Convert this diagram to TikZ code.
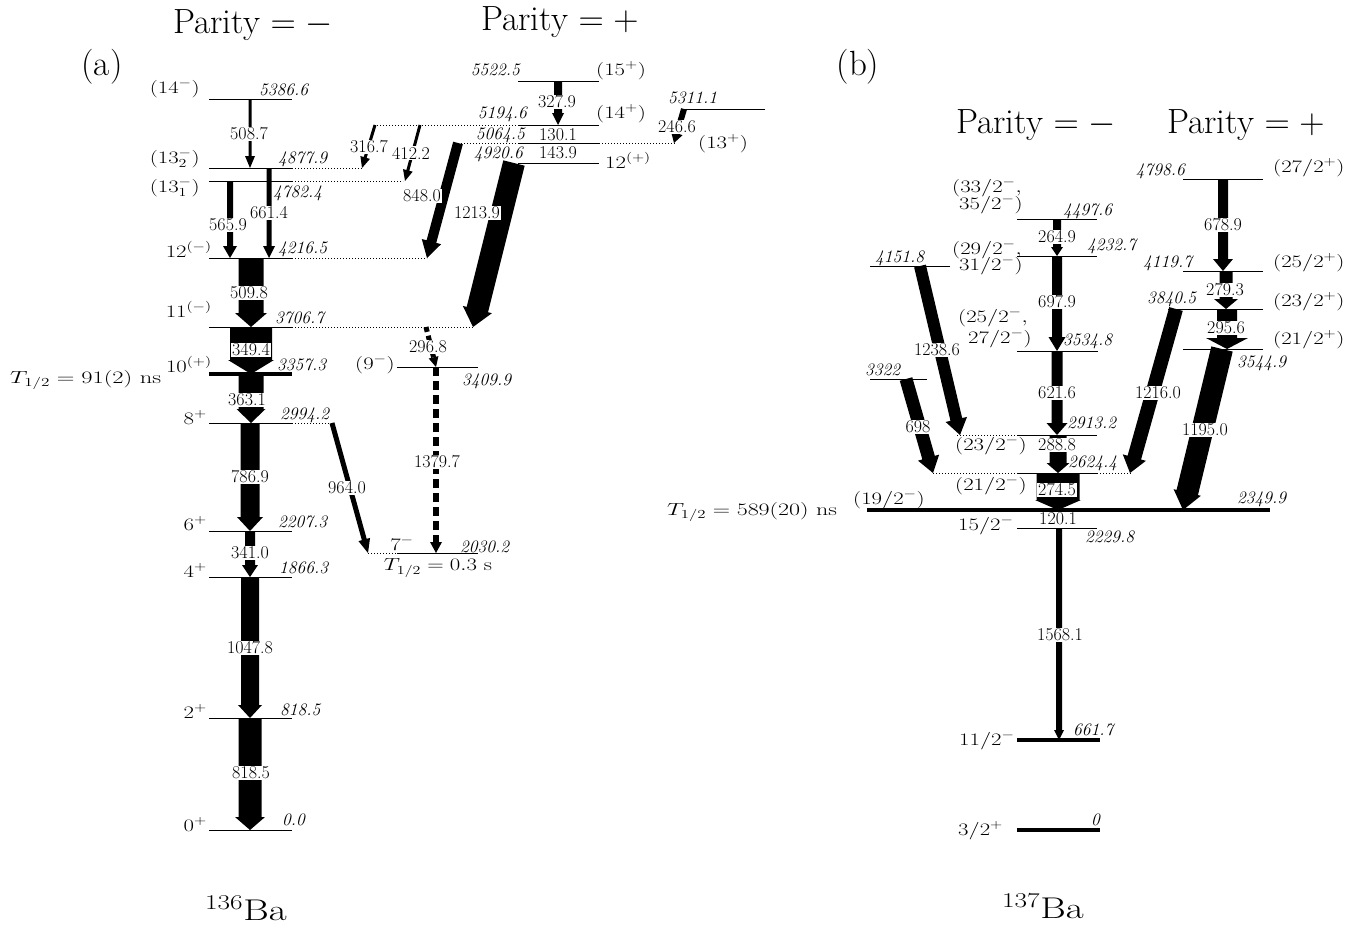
\RequirePackage{fix-cm}
\documentclass[tikz,border=0pt]{standalone}
\usepackage{graphicx}
\usetikzlibrary{calc}
\newcommand\sx[1]{\scalebox{1.3}[1]{#1}}
% fat gamma arrow: name, start, end, half body, half head, head length
\newcommand\gamarrow[6]{%
  \coordinate (#1s) at #2; \coordinate (#1e) at #3;
  \path ($(#1e)!#6!(#1s)$) coordinate (#1c);
  \fill ($(#1s)!#4!90:(#1e)$) -- ($(#1c)!#4!90:(#1e)$) -- ($(#1c)!#5!90:(#1e)$) -- (#1e)
     -- ($(#1c)!#5!-90:(#1e)$) -- ($(#1c)!#4!-90:(#1e)$) -- ($(#1s)!#4!-90:(#1e)$) -- cycle;}
% dashed arrow: name, start, end, line width, half head, head length, dash pattern
\newcommand\gamdash[7]{%
  \coordinate (#1s) at #2; \coordinate (#1e) at #3;
  \path ($(#1e)!#6!(#1s)$) coordinate (#1c);
  \draw[line width=#4, dash pattern=#7] (#1s) -- (#1c);
  \fill ($(#1c)!#5!90:(#1e)$) -- (#1e) -- ($(#1c)!#5!-90:(#1e)$) -- cycle;}
\tikzset{
  lev/.style={line width=1pt},
  levthick/.style={line width=4pt},
  ext/.style={line width=1pt, dotted},
  en/.style={font=\fontsize{17.5}{20}\selectfont\itshape, inner sep=0pt},
  sp/.style={font=\fontsize{17.5}{20}\selectfont, inner sep=0pt},
  tl/.style={font=\fontsize{18}{20}\selectfont, fill=white, inner sep=1pt},
  ttl/.style={font=\fontsize{35}{40}\selectfont, inner sep=0pt},
}
\begin{document}
\begin{tikzpicture}[x=1pt,y=-1pt]
\useasboundingbox (0,0) rectangle (1367,927);

% ================= (a) =================
% levels, left column
\draw[lev] (209,99) -- (292,99);
\draw[lev] (209,168) -- (292,168); \draw[ext] (292,168) -- (363,168);
\draw[lev] (209,181) -- (292,181); \draw[ext] (292,181) -- (403,181);
\draw[lev] (209,258) -- (292,258); \draw[ext] (292,258) -- (427,258);
\draw[lev] (209,327) -- (292,327); \draw[ext] (292,327) -- (473,327);
\draw[levthick] (209,374) -- (292,374);
\draw[lev] (209,423) -- (292,423); \draw[ext] (292,423) -- (332,423);
\draw[lev] (209,531) -- (292,531);
\draw[lev] (209,577) -- (292,577);
\draw[lev] (209,718) -- (292,718);
\draw[lev] (209,830) -- (292,830);
% levels, right column
\draw[lev] (518,81) -- (599,81);
\draw[lev] (518,125) -- (599,125); \draw[ext] (374,125) -- (518,125);
\draw[lev] (518,143) -- (599,143); \draw[ext] (458,143) -- (518,143); \draw[ext] (599,143) -- (675,143);
\draw[lev] (518,163) -- (599,163);
\draw[lev] (683,109) -- (765,109);
\draw[lev] (397,367) -- (478,367);
\draw[lev] (397,553) -- (478,553); \draw[ext] (368,553) -- (397,553);

% transitions
\gamarrow{t5087}{(250,99)}{(250,168)}{1.5pt}{5pt}{12pt}
\gamarrow{t5659}{(230,181)}{(230,258)}{3pt}{7pt}{12pt}
\gamarrow{t6614}{(269,168)}{(269,258)}{2.5pt}{6pt}{12pt}
\gamarrow{t5098}{(251,258)}{(251,327)}{12.5pt}{16pt}{14pt}
\gamarrow{t3494}{(251,327)}{(251,374)}{21pt}{23pt}{14pt}
\gamarrow{t3631}{(251,374)}{(251,423)}{12.5pt}{14.5pt}{14pt}
\gamarrow{t7869}{(250,423)}{(250,531)}{9.5pt}{13pt}{14pt}
\gamarrow{t3410}{(250,531)}{(250,577)}{5pt}{8pt}{12pt}
\gamarrow{t10478}{(250,577)}{(250,718)}{9pt}{12pt}{13pt}
\gamarrow{t8185}{(250,718)}{(250,830)}{11.5pt}{15pt}{13pt}
\gamarrow{t3279}{(558,81)}{(558,125)}{4pt}{6pt}{12pt}
\gamarrow{t2466}{(684,109)}{(674,143)}{3pt}{6pt}{10pt}
\gamarrow{t3167}{(375,125)}{(362,168)}{1.5pt}{5pt}{11pt}
\gamarrow{t4122}{(420,125)}{(405,181)}{1.5pt}{5pt}{11pt}
\gamarrow{t8480}{(458,143)}{(427,258)}{5pt}{10pt}{17pt}
\gamarrow{t12139}{(514,163)}{(473,327)}{11pt}{15pt}{18pt}
\gamarrow{t9640}{(332,423)}{(368,553)}{2.5pt}{6pt}{14pt}
\gamdash{t2968}{(426,327)}{(436,367)}{5pt}{5pt}{10pt}{on 5pt off 4pt}
\gamdash{t13797}{(436,367)}{(436,553)}{6pt}{6pt}{11pt}{on 9pt off 5pt}

% transition labels
\node[tl] (l5087) at (249,134) {508.7};
\node[tl] (l5659) at (228,225) {565.9};
\node[tl] (l6614) at (269,213) {661.4};
\node[tl] (l5098) at (249,293) {509.8};
\node[tl] (l3494) at (251,350) {349.4};
\node[tl] (l3631) at (247,400) {363.1};
\node[tl] (l7869) at (250,477) {786.9};
\node[tl] (l3410) at (250,553) {341.0};
\node[tl] (l10478) at (250,648) {1047.8};
\node[tl] (l8185) at (251,773) {818.5};
\node[tl] (l3279) at (557,102) {327.9};
\node[tl] (l1301) at (558,135) {130.1};
\node[tl] (l1439) at (558,153) {143.9};
\node[tl] (l2466) at (677,127) {246.6};
\node[tl] (l3167) at (369,147) {316.7};
\node[tl] (l4122) at (411,153) {412.2};
\node[tl] (l8480) at (422,196) {848.0};
\node[tl] (l12139) at (477,213) {1213.9};
\node[tl] (l9640) at (347,488) {964.0};
\node[tl] (l2968) at (428,347) {296.8};
\node[tl] (l13797) at (437,462) {1379.7};

% spin labels
\node[sp, anchor=base east] (s14m) at (200,93) {\sx{$(14^-)$}};
\node[sp, anchor=base east] (s132) at (200,163) {\sx{$(13^-_2)$}};
\node[sp, anchor=base east] (s131) at (200,192) {\sx{$(13^-_1)$}};
\node[sp, anchor=base east] (s12m) at (212,257) {\sx{$12^{(-)}$}};
\node[sp, anchor=base east] (s11m) at (212,317) {\sx{$11^{(-)}$}};
\node[sp, anchor=base east] (s10p) at (212,372) {\sx{$10^{(+)}$}};
\node[sp, anchor=base east] (s8p) at (207,424) {\sx{$8^+$}};
\node[sp, anchor=base east] (s6p) at (207,530) {\sx{$6^+$}};
\node[sp, anchor=base east] (s4p) at (207,577) {\sx{$4^+$}};
\node[sp, anchor=base east] (s2p) at (207,718) {\sx{$2^+$}};
\node[sp, anchor=base east] (s0p) at (207,831) {\sx{$0^+$}};
\node[sp, anchor=base west] (s15p) at (596,75) {\sx{$(15^+)$}};
\node[sp, anchor=base west] (s14p) at (596,118) {\sx{$(14^+)$}};
\node[sp, anchor=base west] (s12p) at (605,168) {\sx{$12^{(+)}$}};
\node[sp, anchor=base west] (s13p) at (698,148) {\sx{$(13^+)$}};
\node[sp, anchor=base east] (s9m) at (395,369) {\sx{$(9^-)$}};
\node[sp, anchor=base] (s7m) at (402,550) {\sx{$7^-$}};
\node[sp, anchor=base west] (thalfa) at (10,383) {\scalebox{1.4}[1]{$T_{1/2}=91(2)$ ns}};
\node[sp] (thalfb) at (438,568) {\sx{$T_{1/2}=0.3$ s}};

% energies
\node[en, anchor=base west] (e5386) at (259,95) {5386.6};
\node[en, anchor=base west] (e4877) at (278,163) {4877.9};
\node[en, anchor=base west] (e4782) at (273,197) {4782.4};
\node[en, anchor=base west] (e4216) at (278,253) {4216.5};
\node[en, anchor=base west] (e3706) at (275,323) {3706.7};
\node[en, anchor=base west] (e3357) at (277,370) {3357.3};
\node[en, anchor=base west] (e2994) at (280,419) {2994.2};
\node[en, anchor=base west] (e2207) at (278,527) {2207.3};
\node[en, anchor=base west] (e1866) at (279,573) {1866.3};
\node[en, anchor=base west] (e818) at (280,715) {818.5};
\node[en, anchor=base west] (e0a) at (282,825) {0.0};
\node[en, anchor=base east] (e5522) at (520,75) {5522.5};
\node[en, anchor=base east] (e5194) at (527,118) {5194.6};
\node[en, anchor=base east] (e5064) at (525,139) {5064.5};
\node[en, anchor=base east] (e4920) at (523,158) {4920.6};
\node[en, anchor=base west] (e5311) at (668,103) {5311.1};
\node[en, anchor=base west] (e3409) at (462,385) {3409.9};
\node[en, anchor=base west] (e2030) at (460,552) {2030.2};

% titles
\node[ttl] (pa1) at (253,25) {Parity $=-$};
\node[ttl] (pa2) at (560,22) {Parity $=+$};
\node[ttl] (lab-a) at (102,67) {(a)};
\node[ttl, anchor=base, font=\fontsize{30}{34}\selectfont] (nuc-a) at (246,920) {\sx{$^{136}$Ba}};

% ================= (b) =================
\draw[lev] (1183,179) -- (1263,179);
\draw[lev] (1017,219) -- (1097,219);
\draw[lev] (1017,256) -- (1097,256);
\draw[lev] (870,266) -- (950,266);
\draw[lev] (1183,271) -- (1263,271);
\draw[lev] (1168,309) -- (1263,309);
\draw[lev] (1183,349) -- (1263,349);
\draw[lev] (1017,351) -- (1098,351);
\draw[lev] (870,379) -- (927,379);
\draw[lev] (1017,435) -- (1097,435); \draw[ext] (957,435) -- (1017,435);
\draw[lev] (1017,473) -- (1097,473); \draw[ext] (933,473) -- (1017,473); \draw[ext] (1097,473) -- (1132,473);
\draw[levthick] (867,510) -- (1270,510);
\draw[lev] (1017,528) -- (1097,528);
\draw[levthick] (1017,740) -- (1100,740);
\draw[levthick] (1017,830) -- (1100,830);

\gamarrow{u2649}{(1057,219)}{(1057,256)}{4pt}{6pt}{9pt}
\gamarrow{u6979}{(1057,256)}{(1057,351)}{5pt}{8.5pt}{14pt}
\gamarrow{u6216}{(1057,351)}{(1057,435)}{5.5pt}{10.5pt}{12pt}
\gamarrow{u2888}{(1058,435)}{(1058,473)}{8.5pt}{11.5pt}{10pt}
\gamarrow{u2745}{(1058,473)}{(1058,510)}{21.5pt}{23pt}{10pt}
\gamarrow{u15681}{(1059,528)}{(1059,740)}{3pt}{5pt}{10pt}
\gamarrow{u6789}{(1223,179)}{(1223,271)}{5pt}{10pt}{12pt}
\gamarrow{u2793}{(1226,271)}{(1226,309)}{6.5pt}{12pt}{10pt}
\gamarrow{u2956}{(1227,309)}{(1227,349)}{10pt}{21pt}{11pt}
\gamarrow{u12386}{(920,266)}{(960,435)}{6pt}{11pt}{16pt}
\gamarrow{u698}{(906,379)}{(933,473)}{6.5pt}{11pt}{16pt}
\gamarrow{u12160}{(1176,309)}{(1130,473)}{7pt}{12pt}{16pt}
\gamarrow{u11950}{(1222,349)}{(1183,510)}{11pt}{14pt}{18pt}

\node[tl] (m2649) at (1057,237) {264.9};
\node[tl] (m6979) at (1057,302) {697.9};
\node[tl] (m6216) at (1057,393) {621.6};
\node[tl] (m2888) at (1057,445) {288.8};
\node[tl] (m2745) at (1057,490) {274.5};
\node[tl] (m1201) at (1058,519) {120.1};
\node[tl] (m15681) at (1060,635) {1568.1};
\node[tl] (m6789) at (1223,225) {678.9};
\node[tl] (m2793) at (1225,290) {279.3};
\node[tl] (m2956) at (1226,328) {295.6};
\node[tl] (m12386) at (937,350) {1238.6};
\node[tl] (m698) at (918,427) {698};
\node[tl] (m12160) at (1158,393) {1216.0};
\node[tl] (m11950) at (1205,430) {1195.0};

\node[sp, anchor=base west] (s272) at (1273,172) {\sx{$(27/2^+)$}};
\node[sp, anchor=base west] (s332) at (952,192) {\sx{$(33/2^-,$}};
\node[sp, anchor=base west] (s352) at (959,209) {\sx{$35/2^-)$}};
\node[sp, anchor=base west] (s292) at (952,254) {\sx{$(29/2^-,$}};
\node[sp, anchor=base west] (s312) at (959,270) {\sx{$31/2^-)$}};
\node[sp, anchor=base west] (s252p) at (1273,267) {\sx{$(25/2^+)$}};
\node[sp, anchor=base west] (s232p) at (1273,306) {\sx{$(23/2^+)$}};
\node[sp, anchor=base west] (s212p) at (1273,344) {\sx{$(21/2^+)$}};
\node[sp, anchor=base west] (s252m) at (958,322) {\sx{$(25/2^-,$}};
\node[sp, anchor=base west] (s272m) at (968,343) {\sx{$27/2^-)$}};
\node[sp, anchor=base west] (s232m) at (955,450) {\sx{$(23/2^-)$}};
\node[sp, anchor=base west] (s212m) at (955,490) {\sx{$(21/2^-)$}};
\node[sp, anchor=base west] (s192m) at (853,504) {\sx{$(19/2^-)$}};
\node[sp, anchor=base west] (s152m) at (958,530) {\sx{$15/2^-$}};
\node[sp, anchor=base west] (s112m) at (959,745) {\sx{$11/2^-$}};
\node[sp, anchor=base west] (s32p) at (958,835) {\sx{$3/2^+$}};
\node[sp] (thalfc) at (752,512) {\scalebox{1.37}[1]{$T_{1/2}=589(20)$ ns}};

\node[en, anchor=base east] (e4798) at (1185,175) {4798.6};
\node[en, anchor=base west] (e4497) at (1063,215) {4497.6};
\node[en, anchor=base west] (e4232) at (1087,250) {4232.7};
\node[en, anchor=base west] (e4151) at (875,262) {4151.8};
\node[en, anchor=base west] (e4119) at (1143,267) {4119.7};
\node[en, anchor=base west] (e3840) at (1147,303) {3840.5};
\node[en, anchor=base west] (e3544) at (1237,367) {3544.9};
\node[en, anchor=base west] (e3534) at (1063,345) {3534.8};
\node[en, anchor=base west] (e3322) at (865,375) {3322};
\node[en, anchor=base west] (e2913) at (1067,428) {2913.2};
\node[en, anchor=base west] (e2624) at (1068,467) {2624.4};
\node[en, anchor=base west] (e2349) at (1237,503) {2349.9};
\node[en, anchor=base west] (e2229) at (1085,542) {2229.8};
\node[en, anchor=base west] (e661) at (1073,735) {661.7};
\node[en, anchor=base east] (e0b) at (1100,825) {0};

\node[ttl] (lab-b) at (858,67) {(b)};
\node[ttl] (pb1) at (1036,125) {Parity $=-$};
\node[ttl] (pb2) at (1246,125) {Parity $=+$};
\node[ttl, anchor=base, font=\fontsize{30}{34}\selectfont] (nuc-b) at (1043,918) {\sx{$^{137}$Ba}};
\end{tikzpicture}
\end{document}
